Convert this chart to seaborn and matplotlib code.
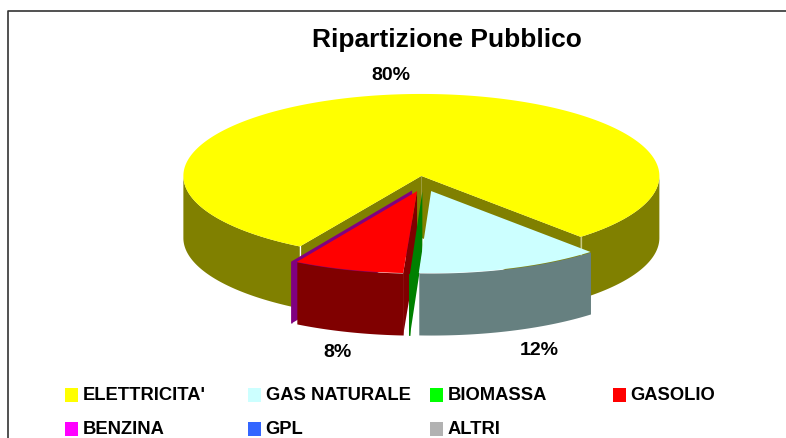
import numpy as np
import seaborn as sns
import matplotlib.pyplot as plt

# shares (the small ones have no label in the chart)
categories = ["ELETTRICITA'", "GAS NATURALE", "BIOMASSA", "GASOLIO", "BENZINA", "GPL", "ALTRI"]
shares = [79.8, 12.5, 0.1, 7.5, 0.1, 0.0, 0.0]
slice_colors = ["#FFFF00", "#CCFFFF", "#00FF00", "#FF0000", "#FF00FF", "#3366FF", "#B2B2B2"]
title = "Ripartizione Pubblico"

# pie geometry, in pixels of the picture
CX, CY = 423.6, 184.7
RX, RY = 238, 82
DEPTH = 62
EXPLODE = 0.095
START = -120.7  # first slice starts here, going clockwise

LABEL_POS = {0: (391, 75), 1: (539, 351), 3: (337, 353)}

sns.set_theme(style="white")
plt.rcParams['font.family'] = ['Liberation Sans', 'DejaVu Sans']
palette = sns.color_palette(slice_colors)

fig = plt.figure(figsize=(7.86, 4.39), dpi=100)
ax = fig.add_axes([0, 0, 1, 1])
ax.set_xlim(0, 786)
ax.set_ylim(439, 0)
ax.axis('off')

# chart frame, only top and left are inside the picture
ax.plot([8, 8, 786], [439, 12, 12], color='#333333', lw=1.2)

ends = START - np.cumsum(shares) * 3.6
starts = np.r_[START, ends[:-1]]


def slice_apex(i):
    mid = np.radians(starts[i] + ends[i]) / 2
    return CX + EXPLODE * RX * np.cos(mid), CY - EXPLODE * RY * np.sin(mid)


def draw_slice(i):
    t0, t1 = np.radians(starts[i]), np.radians(ends[i])
    px, py = slice_apex(i)
    top = palette[i]
    wall = tuple(c * 0.5 for c in top)

    # cut faces, only the ones turned to the viewer
    for t, normal in [(t0, t0 + np.pi / 2), (t1, t1 - np.pi / 2)]:
        if np.sin(normal) < 0:
            rx, ry = px + RX * np.cos(t), py - RY * np.sin(t)
            ax.fill([px, rx, rx, px], [py, ry, ry + DEPTH, py + DEPTH], color=wall, lw=0)

    ts = np.linspace(t0, t1, 1440)
    x = px + RX * np.cos(ts)
    y = py - RY * np.sin(ts)
    ax.fill_between(x, y, y + DEPTH, where=np.sin(ts) <= 0, color=wall, lw=0)
    # the thinnest slices show no top in the reference, only their walls
    if shares[i] >= 0.5:
        ax.fill(np.r_[px, x], np.r_[py, y], color=top, lw=0)


# back to front
draw_slice(0)

# light seams where the yellow cut faces meet the outer wall, zorder 1 so the
# front slices paint over them
px, py = slice_apex(0)
for t, seam in [(np.radians(starts[0]), 'white'), (np.radians(ends[0]), '#C8C880')]:
    rx, ry = px + RX * np.cos(t), py - RY * np.sin(t)
    ax.plot([rx, rx], [ry, ry + DEPTH], color=seam, lw=0.9, zorder=1)

for i in [4, 3, 2, 1]:
    draw_slice(i)

ax.text(447, 40, title, ha='center', va='center', fontsize=19, fontweight='bold', color='black')
for i, (lx, ly) in LABEL_POS.items():
    ax.text(lx, ly, f"{shares[i]:.0f}%", ha='center', va='center', fontsize=14, fontweight='bold', color='black')

# legend, four columns
for i, name in enumerate(categories):
    lx = 65 + 182.5 * (i % 4)
    ly = 389 + 34 * (i // 4)
    ax.add_patch(plt.Rectangle((lx, ly), 13, 14, color=palette[i], lw=0))
    ax.text(lx + 18, ly + 7, name, ha='left', va='center', fontsize=13.2, fontweight='bold', color='black')

fig.savefig('out.png', dpi=100)
